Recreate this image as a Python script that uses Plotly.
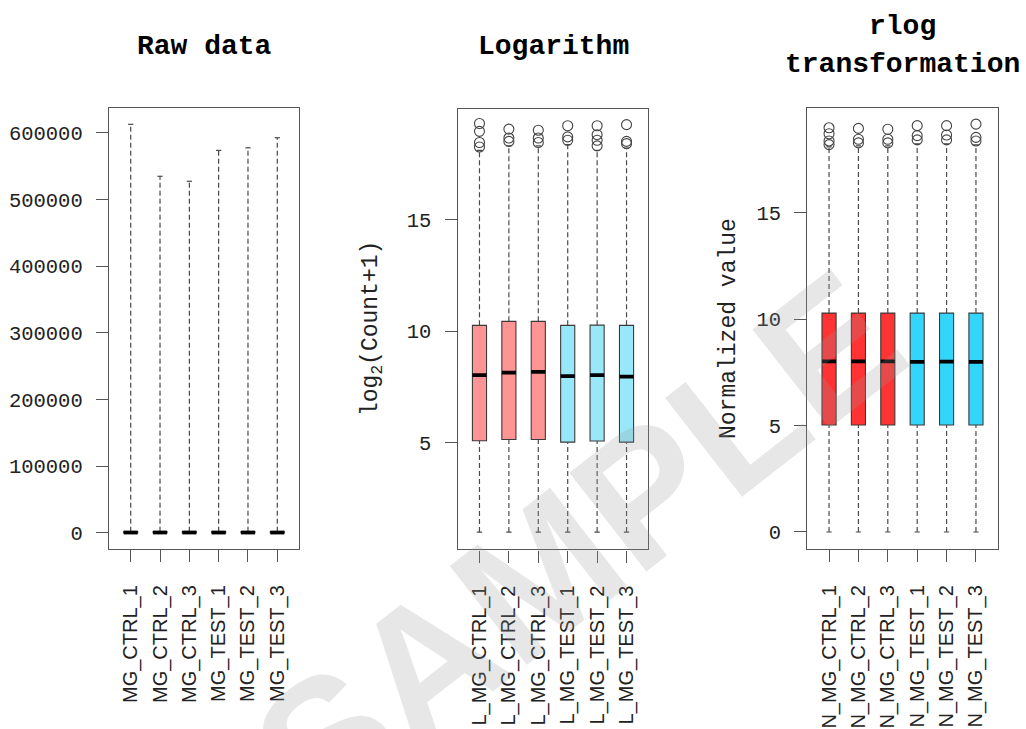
import plotly.graph_objects as go

# ---------------- data ----------------
samples = ["MG_CTRL_1", "MG_CTRL_2", "MG_CTRL_3", "MG_TEST_1", "MG_TEST_2", "MG_TEST_3"]
log_labels = ["L_" + s for s in samples]
rlog_labels = ["N_" + s for s in samples]

# Raw counts
raw_min = [0, 0, 0, 0, 0, 0]
raw_q1 = [30, 35, 35, 30, 32, 30]
raw_median = [250, 280, 290, 240, 255, 245]
raw_q3 = [1250, 1400, 1400, 1250, 1280, 1250]
raw_max = [613000, 535000, 527500, 573800, 577800, 592900]
raw_outliers = [[], [], [], [], [], []]

# log2(count + 1)
log_lo = [1.0, 1.0, 1.0, 1.0, 1.0, 1.0]
log_q1 = [5.09, 5.15, 5.15, 5.03, 5.08, 5.03]
log_median = [8.03, 8.14, 8.18, 7.99, 8.03, 7.96]
log_q3 = [10.26, 10.44, 10.44, 10.26, 10.27, 10.26]
log_hi = [18.1, 18.3, 18.3, 18.35, 18.1, 18.2]
log_outliers = [
    [19.3, 18.95, 18.45, 18.25],
    [19.05, 18.65, 18.5],
    [19.0, 18.65, 18.45],
    [19.2, 18.7, 18.55],
    [19.2, 18.8, 18.55, 18.3],
    [19.25, 18.5, 18.4],
]

# rlog transformation
rlog_lo = [0.0, 0.0, 0.0, 0.0, 0.0, 0.0]
rlog_q1 = [5.03, 5.03, 5.03, 5.03, 5.03, 5.03]
rlog_median = [8.02, 8.02, 8.02, 8.0, 8.01, 8.0]
rlog_q3 = [10.29, 10.29, 10.29, 10.29, 10.29, 10.29]
rlog_hi = [18.1, 18.15, 18.15, 18.25, 18.25, 18.2]
rlog_outliers = [
    [19.0, 18.72, 18.38, 18.21],
    [18.97, 18.46, 18.29],
    [18.93, 18.46, 18.29],
    [19.1, 18.63, 18.43],
    [19.1, 18.66, 18.43],
    [19.17, 18.55, 18.38],
]

raw_ticks = [0, 100000, 200000, 300000, 400000, 500000, 600000]
log_ticks = [5, 10, 15]
rlog_ticks = [0, 5, 10, 15]

raw_colors = ["#FFFFFF"] * 6
log_colors = ["#FF9494"] * 3 + ["#99E8FA"] * 3
rlog_colors = ["#FF3333"] * 3 + ["#33D6FA"] * 3

# ---------------- styling ----------------
W, H = 1026, 729
BOX_W = 0.48
CAP_HW = 0.09
FRAME = "#555555"
MONO = "Liberation Mono, DejaVu Sans Mono, monospace"
SANS = "Liberation Sans, Arial, sans-serif"

fig = go.Figure()


def add_panel(ax, labels, lo, q1, med, q3, hi, outliers, colors):
    xa, ya = "x" + ax, "y" + ax
    pos = list(range(1, len(labels) + 1))
    # whiskers (dashed)
    wx, wy = [], []
    for p, a, b, c, d in zip(pos, lo, q1, q3, hi):
        wx += [p, p, None, p, p, None]
        wy += [c, d, None, a, b, None]
    fig.add_trace(go.Scatter(x=wx, y=wy, mode="lines", xaxis=xa, yaxis=ya,
                             line=dict(color="#4a4a4a", width=1.2, dash="5px,3px"),
                             hoverinfo="skip", showlegend=False))
    # staples
    cx, cy = [], []
    for p, a, d in zip(pos, lo, hi):
        cx += [p - CAP_HW, p + CAP_HW, None, p - CAP_HW, p + CAP_HW, None]
        cy += [d, d, None, a, a, None]
    fig.add_trace(go.Scatter(x=cx, y=cy, mode="lines", xaxis=xa, yaxis=ya,
                             line=dict(color="#4a4a4a", width=1.2),
                             hoverinfo="skip", showlegend=False))
    # boxes
    for p, a, b, c, col, lab in zip(pos, q1, med, q3, colors, labels):
        fig.add_trace(go.Box(x=[p], q1=[a], median=[b], q3=[c], lowerfence=[a], upperfence=[c],
                             xaxis=xa, yaxis=ya, width=BOX_W, fillcolor=col,
                             line=dict(color="#3a3a3a", width=1.1), whiskerwidth=0,
                             boxpoints=False, name=lab, showlegend=False))
    # medians (thick)
    mx, my = [], []
    for p, b in zip(pos, med):
        mx += [p - BOX_W / 2, p + BOX_W / 2, None]
        my += [b, b, None]
    fig.add_trace(go.Scatter(x=mx, y=my, mode="lines", xaxis=xa, yaxis=ya,
                             line=dict(color="black", width=3.8),
                             hoverinfo="skip", showlegend=False))
    # outliers
    ox, oy = [], []
    for p, outs in zip(pos, outliers):
        ox += [p] * len(outs)
        oy += outs
    if ox:
        fig.add_trace(go.Scatter(x=ox, y=oy, mode="markers", xaxis=xa, yaxis=ya,
                                 marker=dict(symbol="circle-open", size=10,
                                             color="#444444", line=dict(width=1.1)),
                                 hoverinfo="skip", showlegend=False))


add_panel("", samples, raw_min, raw_q1, raw_median, raw_q3, raw_max, raw_outliers, raw_colors)
add_panel("2", log_labels, log_lo, log_q1, log_median, log_q3, log_hi, log_outliers, log_colors)
add_panel("3", rlog_labels, rlog_lo, rlog_q1, rlog_median, rlog_q3, rlog_hi, rlog_outliers, rlog_colors)


def xaxis(dom, labels, anchor):
    return dict(domain=dom, anchor=anchor, range=[0.26, 6.74],
                tickvals=list(range(1, len(labels) + 1)), ticktext=labels,
                tickangle=-90, tickfont=dict(family=SANS, size=20, color="#222"),
                ticks="outside", ticklen=12, tickcolor=FRAME, tickwidth=1.2,
                ticklabelstandoff=15,
                showline=True, mirror=True, linecolor=FRAME, linewidth=1.4,
                showgrid=False, zeroline=False, fixedrange=True)


def yaxis(dom, rng, ticks, anchor):
    return dict(domain=dom, anchor=anchor, range=rng, tickvals=ticks, tickformat="d",
                tickfont=dict(family=MONO, size=20.5, color="#222"),
                ticks="outside", ticklen=12, tickcolor=FRAME, tickwidth=1.2,
                ticklabelstandoff=9,
                showline=True, mirror=True, linecolor=FRAME, linewidth=1.4,
                showgrid=False, zeroline=False, fixedrange=True)


def dx(a, b):
    return [a / W, b / W]


def dy(top, bottom):
    return [(H - bottom) / H, (H - top) / H]


fig.update_layout(
    width=W, height=H,
    margin=dict(l=0, r=0, t=0, b=0, autoexpand=False),
    paper_bgcolor="white", plot_bgcolor="white",
    showlegend=False,
    xaxis=xaxis(dx(109, 299), samples, "y"),
    yaxis=yaxis(dy(108, 549), [-24500, 637500], raw_ticks, "x"),
    xaxis2=xaxis(dx(457.7, 648.3), log_labels, "y2"),
    yaxis2=yaxis(dy(109, 549.3), [0.23, 19.95], log_ticks, "x2"),
    xaxis3=xaxis(dx(807.3, 997.7), rlog_labels, "y3"),
    yaxis3=yaxis(dy(108, 549), [-0.8, 19.93], rlog_ticks, "x3"),
)

title_font = dict(family=MONO, size=28, color="black", weight="bold")
annotations = [
    dict(text="Raw data", x=204 / W, y=1 - 47 / H, font=title_font),
    dict(text="Logarithm", x=553 / W, y=1 - 47 / H, font=title_font),
    dict(text="rlog", x=902 / W, y=1 - 27 / H, font=title_font),
    dict(text="transformation", x=902 / W, y=1 - 65 / H, font=title_font),
    dict(text="log<sub>2</sub>(Count+1)", x=372 / W, y=1 - 329 / H, textangle=-90,
         font=dict(family=MONO, size=23, color="#222")),
    dict(text="Normalized value", x=729 / W, y=1 - 329 / H, textangle=-90,
         font=dict(family=MONO, size=23, color="#222")),
    dict(text="SAMPLE", x=578 / W, y=1 - 545 / H, textangle=-38,
         font=dict(family=SANS, size=182, color="rgba(150,150,150,0.23)", weight="bold")),
]
for a in annotations:
    a.update(xref="paper", yref="paper", showarrow=False, xanchor="center", yanchor="middle")
fig.update_layout(annotations=annotations)

fig.write_html("out.html", config={"displayModeBar": False},
               post_script="document.body.style.margin='0px';document.body.style.overflow='hidden';")
